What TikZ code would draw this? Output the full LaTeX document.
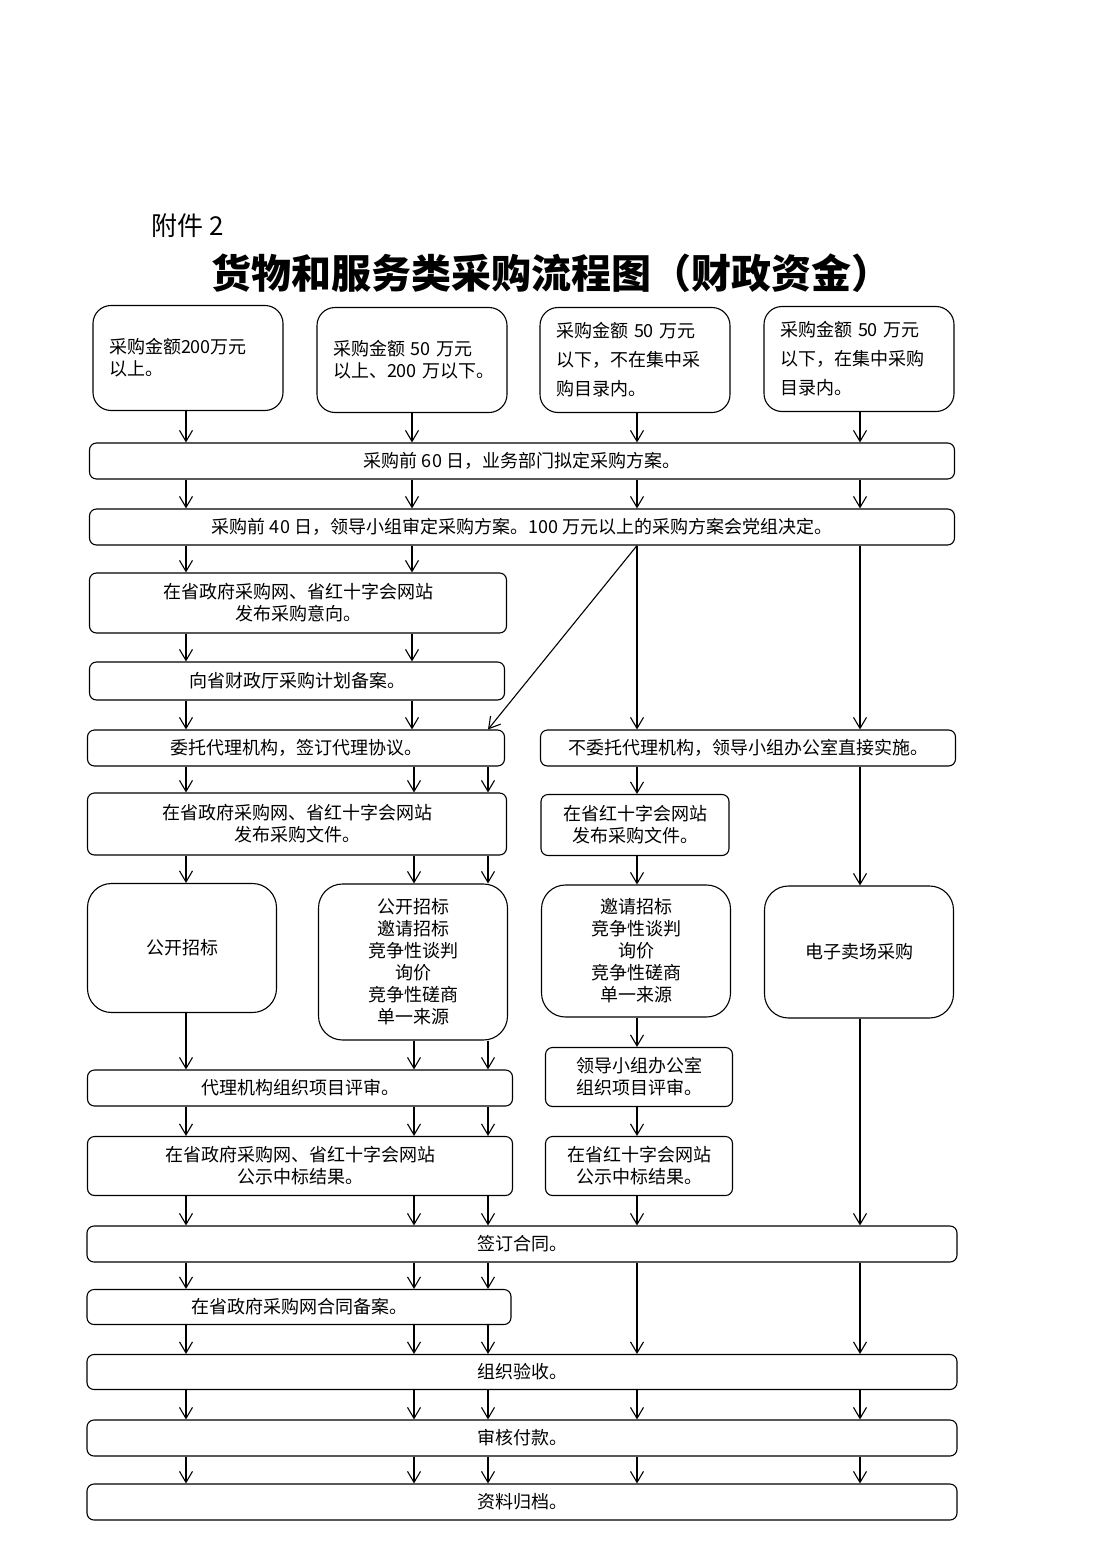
\documentclass[tikz,border=0pt]{standalone}
\usepackage{fontspec}
\newfontfamily\cjk{Noto Sans CJK SC}
\usetikzlibrary{arrows.meta}

\begin{document}
\begin{tikzpicture}[x=1pt,y=-1pt,->,>={Straight Barb[length=11pt,width=13pt]},line width=1.1pt,
  every node/.style={font=\cjk\fontsize{18}{22}\selectfont},
  qbox/.style={draw,rounded corners=18pt,text width=158pt,align=left,inner xsep=16pt,minimum height=105pt},
  bar/.style={draw,rounded corners=7pt,align=center,minimum height=36pt},
  sbox/.style={draw,rounded corners=7pt,align=center,minimum height=60pt},
  mbox/.style={draw,rounded corners=24pt,align=center,minimum width=189pt}]
   \useasboundingbox (0,0) rectangle (1103,1560);

   \coordinate (cA) at (186,0);
   \coordinate (cB) at (414,0);
   \coordinate (cC) at (488,0);
   \coordinate (cD) at (637,0);
   \coordinate (cE) at (860,0);

   \node[anchor=west,font=\cjk\fontsize{26}{30}\selectfont] (fj) at (148,226) {附件 2};
   \node[font=\cjk\bfseries\fontsize{40}{44}\selectfont] (title) at (551,273) {货物和服务类采购流程图（财政资金）};

   \node[qbox] (q1) at (188,358) {采购金额200万元\\以上。};
   \node[qbox] (q2) at (412,360) {采购金额 50 万元\\\mbox{以上、200 万以下。}};
   \node[qbox,font=\cjk\fontsize{18}{29}\selectfont] (q3) at (635,360) {采购金额 50 万元\\以下，不在集中采\\购目录内。};
   \node[qbox,font=\cjk\fontsize{18}{29}\selectfont] (q4) at (859,359) {采购金额 50 万元\\以下，在集中采购\\目录内。};

   \node[bar,minimum width=865pt] (bar1) at (522,461) {采购前 60 日，业务部门拟定采购方案。};
   \node[bar,minimum width=865pt] (bar2) at (522,527) {采购前 40 日，领导小组审定采购方案。100 万元以上的采购方案会党组决定。};

   \node[sbox,minimum width=417pt] (yx) at (298,603) {在省政府采购网、省红十字会网站\\发布采购意向。};
   \node[bar,minimum width=415pt,minimum height=38pt] (ba) at (297,681) {向省财政厅采购计划备案。};
   \node[bar,minimum width=417pt] (wt) at (296,748) {委托代理机构，签订代理协议。};
   \node[bar,minimum width=415pt] (bwt) at (748,748) {不委托代理机构，领导小组办公室直接实施。};

   \node[sbox,minimum width=419pt,minimum height=62pt] (wj1) at (297,824) {在省政府采购网、省红十字会网站\\发布采购文件。};
   \node[sbox,minimum width=188pt,minimum height=61pt] (wj2) at (635,825) {在省红十字会网站\\发布采购文件。};

   \node[mbox,minimum height=129pt] (m1) at (182,948) {公开招标};
   \node[mbox,minimum height=156pt] (m2) at (413,962) {公开招标\\邀请招标\\竞争性谈判\\询价\\竞争性磋商\\单一来源};
   \node[mbox,minimum height=132pt] (m3) at (636,951) {邀请招标\\竞争性谈判\\询价\\竞争性磋商\\单一来源};
   \node[mbox,minimum height=132pt] (m4) at (859,952) {电子卖场采购};

   \node[bar,minimum width=425pt] (ps1) at (300,1088) {代理机构组织项目评审。};
   \node[sbox,minimum width=187pt,minimum height=59pt] (ps2) at (639,1077) {领导小组办公室\\组织项目评审。};
   \node[sbox,minimum width=425pt,minimum height=59pt] (gs1) at (300,1166) {在省政府采购网、省红十字会网站\\公示中标结果。};
   \node[sbox,minimum width=187pt,minimum height=59pt] (gs2) at (639,1166) {在省红十字会网站\\公示中标结果。};

   \node[bar,minimum width=870pt] (ht) at (522,1244) {签订合同。};
   \node[bar,minimum width=424pt,minimum height=35pt] (ba2) at (299,1307) {在省政府采购网合同备案。};
   \node[bar,minimum width=870pt,minimum height=35pt] (ys) at (522,1372) {组织验收。};
   \node[bar,minimum width=870pt] (fk) at (522,1438) {审核付款。};
   \node[bar,minimum width=870pt] (gd) at (522,1502) {资料归档。};


   \path (q1.south -| cA) edge (bar1.north -| cA);
   \path (q2.south -| q2) edge (bar1.north -| q2);
   \path (q3.south -| cD) edge (bar1.north -| cD);
   \path (q4.south -| cE) edge (bar1.north -| cE);

   \path (bar1.south -| cA) edge (bar2.north -| cA);
   \path (bar1.south -| q2) edge (bar2.north -| q2);
   \path (bar1.south -| cD) edge (bar2.north -| cD);
   \path (bar1.south -| cE) edge (bar2.north -| cE);

   \path (bar2.south -| cA) edge (yx.north -| cA);
   \path (bar2.south -| q2) edge (yx.north -| q2);
   \path (bar2.south -| cD) edge (wt.north -| cC);
   \path (bar2.south -| cD) edge (bwt.north -| cD);
   \path (bar2.south -| cE) edge (bwt.north -| cE);

   \path (yx.south -| cA) edge (ba.north -| cA);
   \path (yx.south -| q2) edge (ba.north -| q2);
   \path (ba.south -| cA) edge (wt.north -| cA);
   \path (ba.south -| q2) edge (wt.north -| q2);

   \path (wt.south -| cA) edge (wj1.north -| cA);
   \path (wt.south -| cB) edge (wj1.north -| cB);
   \path (wt.south -| cC) edge (wj1.north -| cC);
   \path (bwt.south -| cD) edge (wj2.north -| cD);
   \path (bwt.south -| cE) edge (m4.north -| cE);

   \path (wj1.south -| cA) edge (m1.north -| cA);
   \path (wj1.south -| cB) edge (m2.north -| cB);
   \path (wj1.south -| cC) edge (m2.north -| cC);
   \path (wj2.south -| cD) edge (m3.north -| cD);

   \path (m1.south -| cA) edge (ps1.north -| cA);
   \path (m2.south -| cB) edge (ps1.north -| cB);
   \path (m2.south -| cC) edge (ps1.north -| cC);
   \path (m3.south -| cD) edge (ps2.north -| cD);

   \path (ps1.south -| cA) edge (gs1.north -| cA);
   \path (ps1.south -| cB) edge (gs1.north -| cB);
   \path (ps1.south -| cC) edge (gs1.north -| cC);
   \path (ps2.south -| cD) edge (gs2.north -| cD);

   \path (gs1.south -| cA) edge (ht.north -| cA);
   \path (gs1.south -| cB) edge (ht.north -| cB);
   \path (gs1.south -| cC) edge (ht.north -| cC);
   \path (gs2.south -| cD) edge (ht.north -| cD);
   \path (m4.south -| cE) edge (ht.north -| cE);

   \path (ht.south -| cA) edge (ba2.north -| cA);
   \path (ht.south -| cB) edge (ba2.north -| cB);
   \path (ht.south -| cC) edge (ba2.north -| cC);

   \path (ba2.south -| cA) edge (ys.north -| cA);
   \path (ba2.south -| cB) edge (ys.north -| cB);
   \path (ba2.south -| cC) edge (ys.north -| cC);
   \path (ht.south -| cD) edge (ys.north -| cD);
   \path (ht.south -| cE) edge (ys.north -| cE);

   \path (ys.south -| cA) edge (fk.north -| cA);
   \path (ys.south -| cB) edge (fk.north -| cB);
   \path (ys.south -| cC) edge (fk.north -| cC);
   \path (ys.south -| cD) edge (fk.north -| cD);
   \path (ys.south -| cE) edge (fk.north -| cE);

   \path (fk.south -| cA) edge (gd.north -| cA);
   \path (fk.south -| cB) edge (gd.north -| cB);
   \path (fk.south -| cC) edge (gd.north -| cC);
   \path (fk.south -| cD) edge (gd.north -| cD);
   \path (fk.south -| cE) edge (gd.north -| cE);

\end{tikzpicture}
\end{document}
